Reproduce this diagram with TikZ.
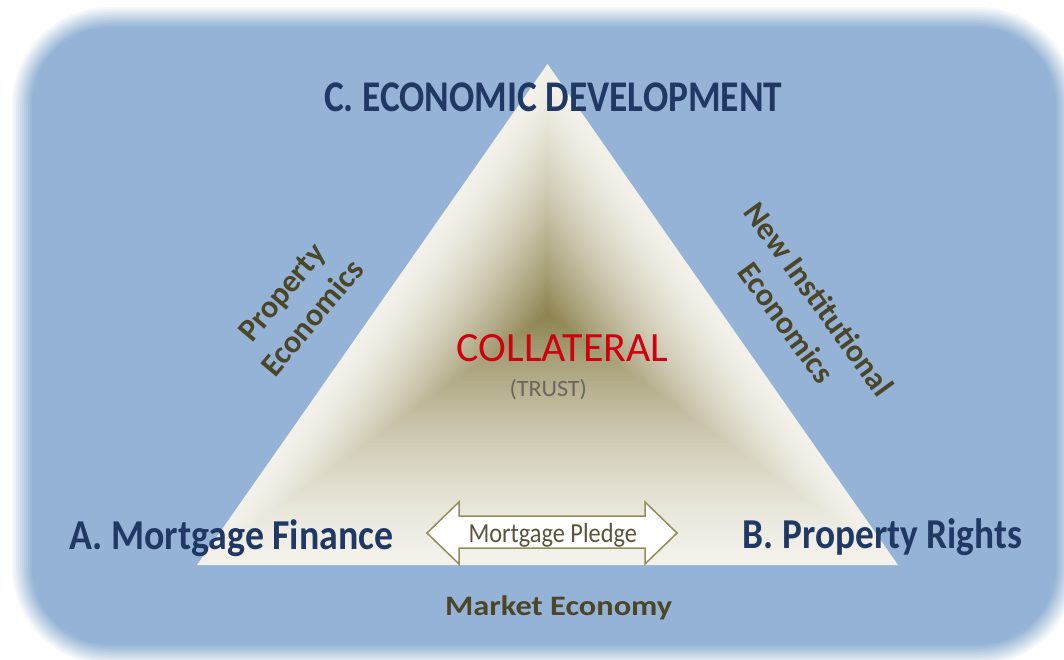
\documentclass[tikz,border=0pt]{standalone}
\usepackage{fontspec}
\setmainfont{Carlito}
\usetikzlibrary{calc}
\definecolor{bgblue}{RGB}{149,179,215}
\definecolor{navy}{RGB}{31,56,100}
\definecolor{olivetxt}{RGB}{76,70,40}
\definecolor{cream}{RGB}{243,241,234}
\definecolor{olivec}{RGB}{140,130,78}
\definecolor{crimson}{RGB}{208,0,16}
\definecolor{trustgray}{RGB}{105,102,95}
\definecolor{arrowline}{RGB}{150,140,90}
\definecolor{pledgetxt}{RGB}{92,84,60}
\newcommand\fitbox[3]{\resizebox{#1}{#2}{\raisebox{0pt}[\fontcharht\font`\A][0pt]{#3}}}
\begin{document}
\begin{tikzpicture}[x=1pt,y=-1pt,
  title/.style={inner sep=0pt, text=navy, font=\bfseries, anchor=base west},
  plain/.style={inner sep=0pt, anchor=base west},
  side/.style={inner sep=0pt, text=olivetxt, font=\bfseries\fontsize{32}{40}\selectfont, align=center}]
\useasboundingbox (0,0) rectangle (1064,660);
\fill[white] (0,0) rectangle (1064,660);
% soft-edged blue panel
\foreach \k in {0,...,10}{
  \pgfmathsetmacro\d{-10+2*\k}
  \pgfmathsetmacro\op{1/(11-\k)}
  \pgfmathsetmacro\rr{88-\d}
  \pgfmathsetmacro\xa{22+\d}
  \pgfmathsetmacro\ya{17+\d}
  \pgfmathsetmacro\xb{1066-\d}
  \pgfmathsetmacro\yb{655-\d}
  \fill[bgblue, fill opacity=\op, rounded corners=\rr pt] (\xa,\ya) rectangle (\xb,\yb);
}
% triangle with path gradient
\coordinate (ctr) at (547.5,314.5);
\coordinate (tA) at (547.5,64);
\coordinate (tL) at (197,565);
\coordinate (tR) at (898,565);
\foreach \i in {0,...,79}{
  \pgfmathsetmacro\t{1-\i/80}
  \pgfmathsetmacro\w{100*(\i/80)*sqrt(\i/80)}
  \fill[olivec!\w!cream] ($(ctr)!\t!(tA)$) -- ($(ctr)!\t!(tL)$) -- ($(ctr)!\t!(tR)$) -- cycle;
}
% titles
\node[title] (C) at (324,111.7) {\fitbox{458pt}{28.4pt}{C. ECONOMIC DEVELOPMENT}};
\node[title] (A) at (69.3,549.3) {\fitbox{324pt}{27.6pt}{A. Mortgage Finance}};
\node[title] (B) at (742.7,548.3) {\fitbox{279pt}{27.6pt}{B. Property Rights}};
% centre
\node[plain, text=crimson] (col) at (456.7,361.7) {\fitbox{211.6pt}{26.7pt}{COLLATERAL}};
\node[plain, text=trustgray] (trust) at (509.3,396.7) {\fitbox{77.4pt}{15pt}{(TRUST)}};
% side labels
\node[side, rotate=50] (pe) at (297,305) {Property\\Economics};
\node[side, rotate=-54] (nie) at (803,311) {New Institutional\\Economics};
% market economy
\node[plain, text=olivetxt, font=\bfseries] (me) at (445,615) {\fitbox{227pt}{18.3pt}{Market Economy}};
% double arrow
\coordinate (mp) at (552,533);
\draw[arrowline, line width=1.5pt, fill=white, line join=miter]
  ($(mp)+(-125,0)$) -- ++(32,-31) -- ++(0,14) -- ++(186,0) -- ++(0,-14) -- ++(32,31)
  -- ++(-32,31) -- ++(0,-16) -- ++(-186,0) -- ++(0,16) -- cycle;
\node[plain, text=pledgetxt] (mptext) at (468.3,542.7) {\fitbox{168.4pt}{17.7pt}{Mortgage Pledge}};
\end{tikzpicture}
\end{document}
